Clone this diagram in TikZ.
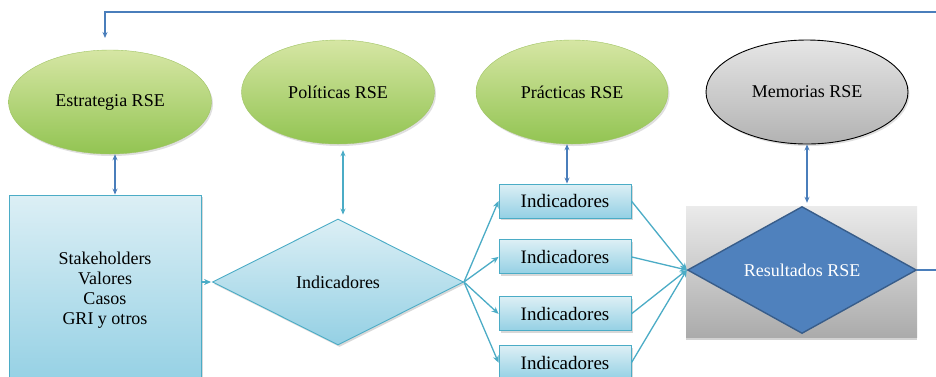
\documentclass[tikz,border=0pt]{standalone}
\usepackage{fontspec}
\setmainfont{Liberation Serif}
\usetikzlibrary{positioning,shapes.geometric,arrows.meta,shadows}
\definecolor{greenTop}{RGB}{214,230,164}
\definecolor{greenBottom}{RGB}{146,196,82}
\definecolor{greenLine}{RGB}{160,196,100}
\definecolor{aquaTop}{RGB}{220,239,245}
\definecolor{aquaBottom}{RGB}{148,208,228}
\definecolor{aquaLine}{RGB}{75,172,198}
\definecolor{steel}{RGB}{79,129,189}
\definecolor{steelLine}{RGB}{56,93,138}
\definecolor{linkBlue}{RGB}{74,126,187}
\tikzset{Goal/.style={%
    shape=ellipse,%
    draw=greenLine,%
    top color=greenTop,%
    bottom color=greenBottom,%
    minimum height=104pt,%
    inner sep=0pt,%
    drop shadow={opacity=0.25,shadow xshift=1.5pt,shadow yshift=-2pt},%
}}
\tikzset{Report/.style={%
    Goal,%
    draw=black,%
    line width=0.9pt,%
    top color=black!10,%
    bottom color=black!30,%
}}
\tikzset{InfoBox/.style={%
    shape=rectangle,%
    draw=aquaLine,%
    line width=0.9pt,%
    top color=aquaTop,%
    bottom color=aquaBottom,%
    inner sep=0pt,%
    drop shadow={opacity=0.3,shadow xshift=1.5pt,shadow yshift=-2pt},%
}}
\tikzset{KPI/.style={%
    InfoBox,%
    minimum width=132pt,%
    minimum height=34pt,%
    font=\fontsize{19}{21}\selectfont,%
}}
\tikzset{Gem/.style={%
    shape=diamond,%
    inner sep=0pt,%
    aspect=2,%
}}
\tikzset{BothArrow/.style={%
    {Stealth[length=6pt,width=5pt]}-{Stealth[length=6pt,width=5pt]},%
    draw=linkBlue,%
    line width=1.1pt,%
}}
\tikzset{FanArrow/.style={%
    -{Stealth[length=7pt,width=6pt]},%
    draw=aquaLine,%
    line width=1.3pt,%
}}
\tikzset{LoopArrow/.style={%
    -{Stealth[length=6pt,width=5pt]},%
    draw=linkBlue,%
    line width=1.1pt,%
}}

\begin{document}
\begin{tikzpicture}[x=1pt,y=-1pt,font=\fontsize{18}{20}\selectfont]
    \clip (0,0) rectangle (936,376);
    \fill[white] (0,0) rectangle (936,376);

    % top row
    \node[Goal, minimum width=203pt] (est) at (110,102) {Estrategia RSE};
    \node[Goal, minimum width=193pt] (pol) at (338,92) {Políticas RSE};
    \node[Goal, minimum width=192pt] (pra) at (572,92) {Prácticas RSE};
    \node[Report, minimum width=202pt] (mem) at (807,92) {Memorias RSE};

    % bottom row
    \node[InfoBox, minimum width=192pt, minimum height=190pt, align=center] (stk) at (105,290)
        {Stakeholders\\Valores\\Casos\\GRI y otros};
    \node[InfoBox, Gem, minimum width=251pt, minimum height=126pt] (ind) at (338,282) {Indicadores};
    \node[KPI] (k1) at (565,201) {Indicadores};
    \node[KPI, below=21pt of k1] (k2) {Indicadores};
    \node[KPI, below=22pt of k2] (k3) {Indicadores};
    \node[KPI, below=14pt of k3] (k4) {Indicadores};
    \node[fill=black!10, top color=black!8, bottom color=black!33, minimum width=231pt, minimum height=131pt,
        inner sep=0pt, drop shadow={opacity=0.35,shadow xshift=0pt,shadow yshift=-2.5pt}] (resbox) at (801.5,271.5) {};
    \node[Gem, draw=steelLine, line width=1.4pt, fill=steel, text=white, minimum width=229pt, minimum height=127pt]
        (res) at (802,270) {Resultados RSE};
    \coordinate (loopR) at (950,12);
    \coordinate (loopIn) at (105,38);

    \path ([xshift=5pt]est.south) edge[BothArrow] ([xshift=5pt]est.south |- stk.north);
    \path ([xshift=5pt]pol.south) edge[BothArrow, draw=aquaLine, shorten <=6pt, shorten >=4pt] ([xshift=5pt]pol.south |- ind.north);
    \path ([xshift=-5pt]pra.south) edge[BothArrow] ([xshift=-5pt]pra.south |- k1.north);
    \path (mem.south) edge[BothArrow, shorten >=3pt] (mem.south |- resbox.north);
    \path (stk.east |- ind.west) edge[FanArrow, shorten >=1pt] (ind.west);
    \path (ind.east) edge[FanArrow] (k1.west);
    \path (ind.east) edge[FanArrow] (k2.west);
    \path (ind.east) edge[FanArrow] (k3.west);
    \path (ind.east) edge[FanArrow] (k4.west);
    \path (k1.east) edge[FanArrow] (res.west);
    \path (k2.east) edge[FanArrow] (res.west);
    \path (k3.east) edge[FanArrow] (res.west);
    \path (k4.east) edge[FanArrow] (res.west);
    \draw[LoopArrow] (res.east) -| (loopR) -| (loopIn);
\end{tikzpicture}
\end{document}
